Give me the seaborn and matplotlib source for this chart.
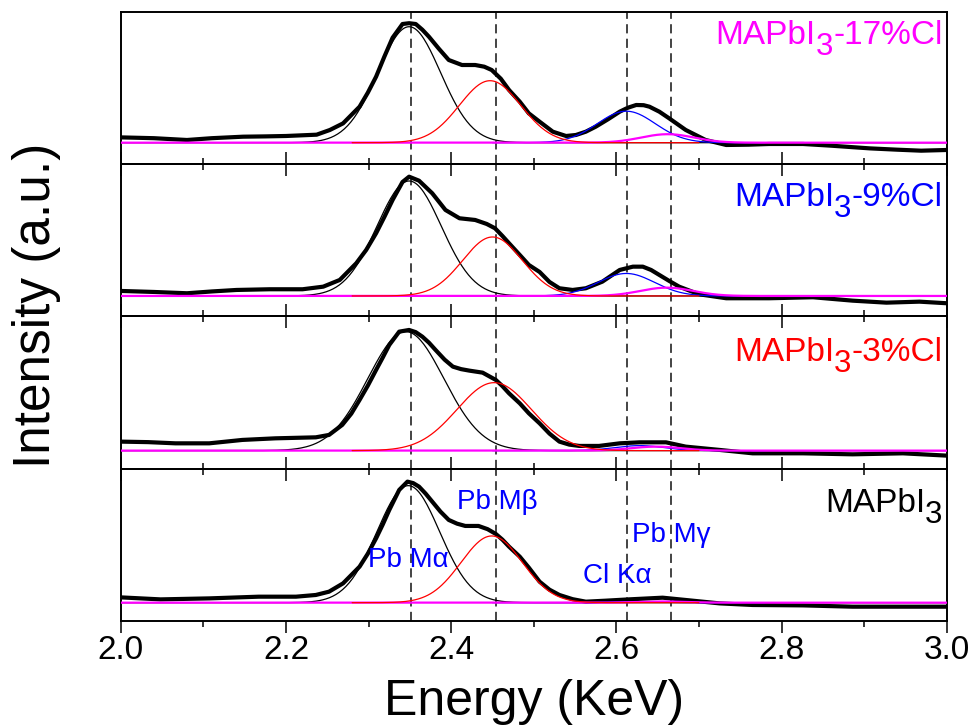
import numpy as np
import matplotlib
matplotlib.use("Agg")
import matplotlib.pyplot as plt
from matplotlib.ticker import MultipleLocator
import seaborn as sns

sns.set_theme(style="white")
plt.rcParams['font.family'] = ['Liberation Sans', 'DejaVu Sans']
plt.rcParams['text.color'] = 'black'
plt.rcParams['axes.labelcolor'] = 'black'
plt.rcParams['xtick.color'] = 'black'
plt.rcParams['ytick.color'] = 'black'

# ---------------- data ----------------
# sample labels (base, subscript, rest) and colours, top panel first
label_parts = [("MAPbI", "3", "-17%Cl"), ("MAPbI", "3", "-9%Cl"),
               ("MAPbI", "3", "-3%Cl"), ("MAPbI", "3", "")]
label_colors = ["#ff00ff", "#0000ff", "#ff0000", "#000000"]
label_ypos = [0.788, 0.724, 0.706, 0.717]

# measured spectra (energy in keV, intensity in a.u. above the fit baseline)
energy_17 = [2.000, 2.040, 2.080, 2.110, 2.148, 2.175, 2.200, 2.237, 2.253, 2.269,
             2.289, 2.299, 2.309, 2.319, 2.329, 2.341, 2.349, 2.357, 2.365, 2.373,
             2.385, 2.397, 2.413, 2.429, 2.440, 2.449, 2.460, 2.470, 2.483, 2.494,
             2.507, 2.523, 2.539, 2.551, 2.563, 2.575, 2.590, 2.604, 2.614, 2.624,
             2.633, 2.640, 2.652, 2.664, 2.684, 2.708, 2.733, 2.760, 2.785, 2.826,
             2.860, 2.907, 2.940, 2.969, 3.000]
counts_17 = [5.3, 4.5, 2.7, 4.5, 6.0, 6.3, 6.7, 8.0, 12.7, 19.3,
             36.0, 50.0, 66.0, 86.0, 105.0, 118.7, 119.5, 118.7, 113.0, 106.0,
             94.0, 82.7, 77.7, 77.7, 76.0, 72.7, 64.0, 52.7, 41.0, 29.3,
             21.0, 11.0, 6.7, 7.7, 11.0, 16.0, 23.5, 31.0, 35.0, 37.7,
             37.5, 36.0, 31.0, 24.3, 12.7, 2.7, -2.3, -2.0, -1.3, -1.3,
             -3.0, -5.7, -7.0, -8.0, -7.3]

energy_9 = [2.000, 2.040, 2.080, 2.110, 2.140, 2.180, 2.220, 2.245, 2.265, 2.285,
            2.297, 2.309, 2.319, 2.329, 2.341, 2.349, 2.361, 2.369, 2.377, 2.393,
            2.410, 2.429, 2.443, 2.453, 2.462, 2.470, 2.483, 2.494, 2.507, 2.519,
            2.531, 2.547, 2.563, 2.583, 2.604, 2.620, 2.632, 2.642, 2.652, 2.664,
            2.676, 2.700, 2.733, 2.785, 2.838, 2.886, 2.927, 2.967, 3.000]
counts_9 = [5.0, 4.0, 2.7, 4.5, 6.0, 6.7, 6.7, 9.3, 16.0, 32.7,
            46.0, 62.7, 79.0, 96.0, 114.0, 119.3, 115.3, 109.0, 102.7, 86.0,
            77.7, 76.0, 72.0, 67.7, 60.0, 52.7, 41.0, 31.0, 24.0, 14.0,
            7.7, 6.0, 7.7, 14.3, 26.0, 29.3, 29.3, 26.0, 21.0, 15.0,
            9.3, 1.7, -2.3, -2.3, -1.3, -4.7, -6.7, -5.7, -7.3]

energy_3 = [2.000, 2.033, 2.066, 2.107, 2.147, 2.187, 2.236, 2.252, 2.268, 2.279,
            2.289, 2.299, 2.309, 2.317, 2.325, 2.337, 2.349, 2.357, 2.365, 2.373,
            2.381, 2.392, 2.402, 2.412, 2.422, 2.438, 2.454, 2.462, 2.470, 2.483,
            2.494, 2.507, 2.519, 2.531, 2.543, 2.555, 2.579, 2.604, 2.628, 2.660,
            2.684, 2.725, 2.765, 2.826, 2.886, 2.947, 3.000]
counts_3 = [9.0, 8.5, 7.3, 7.3, 10.7, 12.3, 13.3, 15.7, 25.7, 37.0,
            50.7, 65.0, 80.7, 93.0, 105.7, 119.0, 120.7, 118.5, 114.0, 108.0,
            100.7, 91.0, 84.0, 81.5, 80.0, 78.0, 70.7, 64.5, 57.3, 47.3,
            37.3, 27.3, 17.0, 9.0, 6.0, 4.7, 4.7, 7.3, 8.3, 8.3,
            4.0, 0.7, -2.7, -2.7, -3.7, -2.7, -5.0]

energy_0 = [2.000, 2.048, 2.107, 2.167, 2.212, 2.236, 2.252, 2.269, 2.289, 2.299,
            2.309, 2.317, 2.325, 2.337, 2.347, 2.354, 2.361, 2.369, 2.377, 2.387,
            2.397, 2.407, 2.417, 2.433, 2.444, 2.454, 2.462, 2.470, 2.483, 2.494,
            2.507, 2.519, 2.531, 2.547, 2.563, 2.587, 2.615, 2.656, 2.684, 2.725,
            2.765, 2.826, 2.886, 2.947, 3.000]
counts_0 = [5.3, 3.3, 4.3, 6.0, 6.0, 7.7, 11.0, 19.3, 36.0, 49.0,
            64.3, 78.0, 92.7, 112.7, 121.0, 119.5, 116.0, 109.0, 101.0, 91.0,
            82.7, 79.0, 76.7, 76.7, 73.5, 68.7, 63.0, 56.0, 46.0, 35.0,
            21.0, 13.0, 7.7, 3.5, 1.0, 2.0, 3.3, 5.0, 2.7, -0.7,
            -2.3, -2.7, -4.0, -4.0, -4.0]

energies = [energy_17, energy_9, energy_3, energy_0]
counts = [counts_17, counts_9, counts_3, counts_0]

# Gaussian fit components: Pb Ma, Pb Mb, Cl Ka, Pb Mg (one row per panel)
comp_colors = ["#000000", "#ff0000", "#0000ff", "#ff00ff"]
comp_ranges = [(2.0, 3.0), (2.28, 2.70), (2.45, 2.78), (2.0, 3.0)]
comp_order = [0, 2, 3, 1]
peak_centers = [[2.349, 2.447, 2.612, 2.662],
                [2.349, 2.450, 2.612, 2.661],
                [2.345, 2.452, 2.628, 2.648],
                [2.348, 2.449, 2.620, 2.655]]
peak_heights = [[116.0, 62.0, 31.5, 8.5],
                [115.0, 59.0, 22.5, 8.3],
                [119.0, 68.0, 5.0, 4.0],
                [117.0, 66.7, 0.8, 1.2]]
peak_sigmas = [[0.038, 0.037, 0.035, 0.032],
               [0.039, 0.036, 0.034, 0.032],
               [0.046, 0.045, 0.030, 0.030],
               [0.038, 0.037, 0.030, 0.030]]

line_energies = [2.351, 2.454, 2.613, 2.666]
panel_ylims = [(-21.5, 130.7), (-20.4, 131.8), (-17.9, 134.3), (-18.0, 134.1)]

annot_texts = ["Pb M\u03b1", "Pb M\u03b2", "Pb M\u03b3", "Cl K\u03b1"]
annot_x = [2.299, 2.407, 2.619, 2.559]
annot_y = [35.4, 93.4, 61.0, 19.4]

# ---------------- figure ----------------
fig, axes = plt.subplots(4, 1, figsize=(9.75, 7.28), dpi=100, sharex=True)
fig.patch.set_facecolor("white")
fig.subplots_adjust(left=0.124, right=0.971, top=0.9835, bottom=0.1474, hspace=0)

for i, ax in enumerate(axes):
    ax.patch.set_visible(False)
    for xv in line_energies:
        ax.axvline(xv, color="#111111", lw=1.1, ls=(0, (6, 3.5)), zorder=1)
    sns.lineplot(x=energies[i], y=counts[i], ax=ax, color="black", lw=3.0,
                 estimator=None, sort=False, zorder=3)
    for k in comp_order:
        lo, hi = comp_ranges[k]
        xg = np.linspace(lo, hi, 500)
        yg = peak_heights[i][k] * np.exp(-(xg - peak_centers[i][k]) ** 2
                                         / (2 * peak_sigmas[i][k] ** 2))
        lw = 1.6 if k == 3 else 0.9
        sns.lineplot(x=xg, y=yg, ax=ax, color=comp_colors[k], lw=lw,
                     estimator=None, sort=False, zorder=4)
    ax.set_xlim(2.0, 3.0)
    ax.set_ylim(*panel_ylims[i])
    ax.set_yticks([])
    ax.set_xlabel("")
    ax.set_ylabel("")
    ax.xaxis.set_major_locator(MultipleLocator(0.2))
    ax.xaxis.set_minor_locator(MultipleLocator(0.1))
    for sp in ax.spines.values():
        sp.set_color("black")
        sp.set_linewidth(1.4)
    if i < 3:
        ax.tick_params(axis="x", which="both", direction="inout", top=False,
                       bottom=True, labelbottom=False, width=1.1, color="black")
        ax.tick_params(axis="x", which="major", length=17)
        ax.tick_params(axis="x", which="minor", length=9)
    else:
        ax.tick_params(axis="x", which="both", direction="out", top=False,
                       bottom=True, labelbottom=True, width=1.1, color="black",
                       labelsize=24, pad=2, labelcolor="black")
        ax.tick_params(axis="x", which="major", length=8.5)
        ax.tick_params(axis="x", which="minor", length=4.3)

    # sample label with full-size lowered subscript
    base, sub, rest = label_parts[i]
    col = label_colors[i]
    drop = 7.9
    if rest:
        rest_t = ax.text(0.995, label_ypos[i], rest, transform=ax.transAxes,
                         ha="right", va="baseline", fontsize=24, color=col)
        sub_t = ax.annotate(sub, xy=(0, 0), xycoords=rest_t, xytext=(0, -drop),
                            textcoords="offset points", ha="right", va="bottom",
                            fontsize=22.5, color=col)
    else:
        sub_t = ax.annotate(sub, xy=(0.995, label_ypos[i]), xycoords="axes fraction",
                            xytext=(0, -drop), textcoords="offset points",
                            ha="right", va="baseline", fontsize=22.5, color=col)
    ax.annotate(base, xy=(0, 0), xycoords=sub_t, xytext=(0, drop),
                textcoords="offset points", ha="right", va="bottom",
                fontsize=24, color=col)

for t, xv, yv in zip(annot_texts, annot_x, annot_y):
    axes[3].text(xv, yv, t, ha="left", va="baseline", fontsize=20,
                 color="#0000ff", zorder=6)

fig.text(0.037, 0.581, "Intensity (a.u.)", rotation=90, ha="center",
         va="center", fontsize=37, color="black")
fig.text(0.548, 0.018, "Energy (KeV)", ha="center", va="baseline", fontsize=36,
         color="black")

fig.savefig("out.png", dpi=100, facecolor="white")
